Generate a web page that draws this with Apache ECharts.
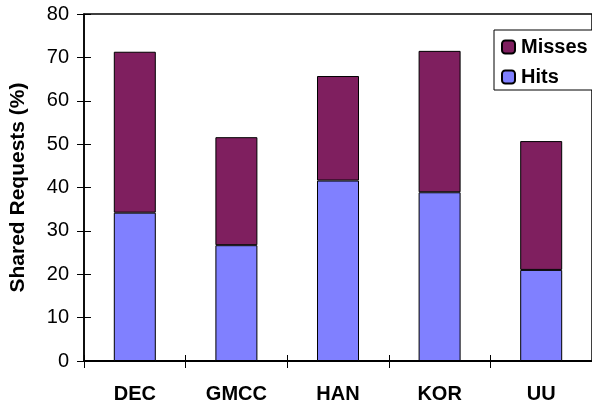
<!DOCTYPE html>
<html>
<head>
<meta charset="utf-8">
<script src="https://cdn.jsdelivr.net/npm/echarts@6/dist/echarts.min.js"></script>
<style>html,body{margin:0;padding:0;background:#fff}#c{width:592px;height:404px}</style>
</head>
<body>
<div id="c"></div>
<script>
var categories = ['DEC', 'GMCC', 'HAN', 'KOR', 'UU'];
var hits = [34.2, 26.7, 41.6, 38.9, 21.0];
var misses = [37.1, 24.9, 24.1, 32.6, 29.7];
var yTicks = [0, 10, 20, 30, 40, 50, 60, 70, 80];

var font = 'Arial, "Liberation Sans", sans-serif';
var chart = echarts.init(document.getElementById('c'), null, {renderer: 'canvas'});
chart.setOption({
  animation: false,
  backgroundColor: '#fff',
  grid: {left: 80, right: -3, top: 14, bottom: 42, show: true, borderColor: '#000', borderWidth: 1.5, containLabel: false},
  legend: {
    data: ['Misses', 'Hits'],
    orient: 'vertical',
    left: 494, top: 30,
    padding: [7, 20, 3, 7],
    itemGap: 10,
    itemWidth: 13, itemHeight: 13,
    borderColor: '#000', borderWidth: 1,
    backgroundColor: '#fff',
    textStyle: {fontFamily: font, fontSize: 20, fontWeight: 'bold', color: '#000', padding: [0, 0, 0, 1]}
  },
  xAxis: [{
    type: 'category', data: categories,
    axisLine: {lineStyle: {color: '#000', width: 2}},
    axisTick: {show: true, length: 7, lineStyle: {color: '#000', width: 1}},
    axisLabel: {fontFamily: font, fontSize: 20, fontWeight: 'bold', color: '#000', margin: 23},
    splitLine: {show: false}
  }, {
    type: 'category', data: categories, position: 'bottom', offset: 0,
    axisLine: {show: false},
    axisTick: {show: true, inside: true, length: 6, lineStyle: {color: '#000', width: 1}},
    axisLabel: {show: false}
  }],
  yAxis: [{
    type: 'value', min: 0, max: 80, interval: 10,
    name: 'Shared Requests (%)', nameLocation: 'middle', nameGap: 55,
    nameTextStyle: {fontFamily: font, fontSize: 21, fontWeight: 'bold', color: '#000'},
    axisLine: {show: true, lineStyle: {color: '#000', width: 1.5}},
    axisTick: {show: true, length: 7, lineStyle: {color: '#000', width: 1}},
    axisLabel: {fontFamily: font, fontSize: 20, color: '#000', margin: 15,
      formatter: function (v) { return yTicks.indexOf(v) >= 0 ? String(v) : ''; }},
    splitLine: {show: false}
  }, {
    type: 'value', min: 0, max: 80, interval: 10, position: 'left',
    axisLine: {show: false},
    axisTick: {show: true, inside: true, length: 7, lineStyle: {color: '#000', width: 1}},
    axisLabel: {show: false}, splitLine: {show: false}
  }],
  series: [{
    name: 'Hits', type: 'bar', stack: 'total', data: hits, barWidth: 42,
    itemStyle: {color: '#8080FF', borderColor: '#000', borderWidth: 1}
  }, {
    name: 'Misses', type: 'bar', stack: 'total', data: misses, barWidth: 42,
    itemStyle: {color: '#7F1F5F', borderColor: '#000', borderWidth: 1}
  }]
});
</script>
</body>
</html>
